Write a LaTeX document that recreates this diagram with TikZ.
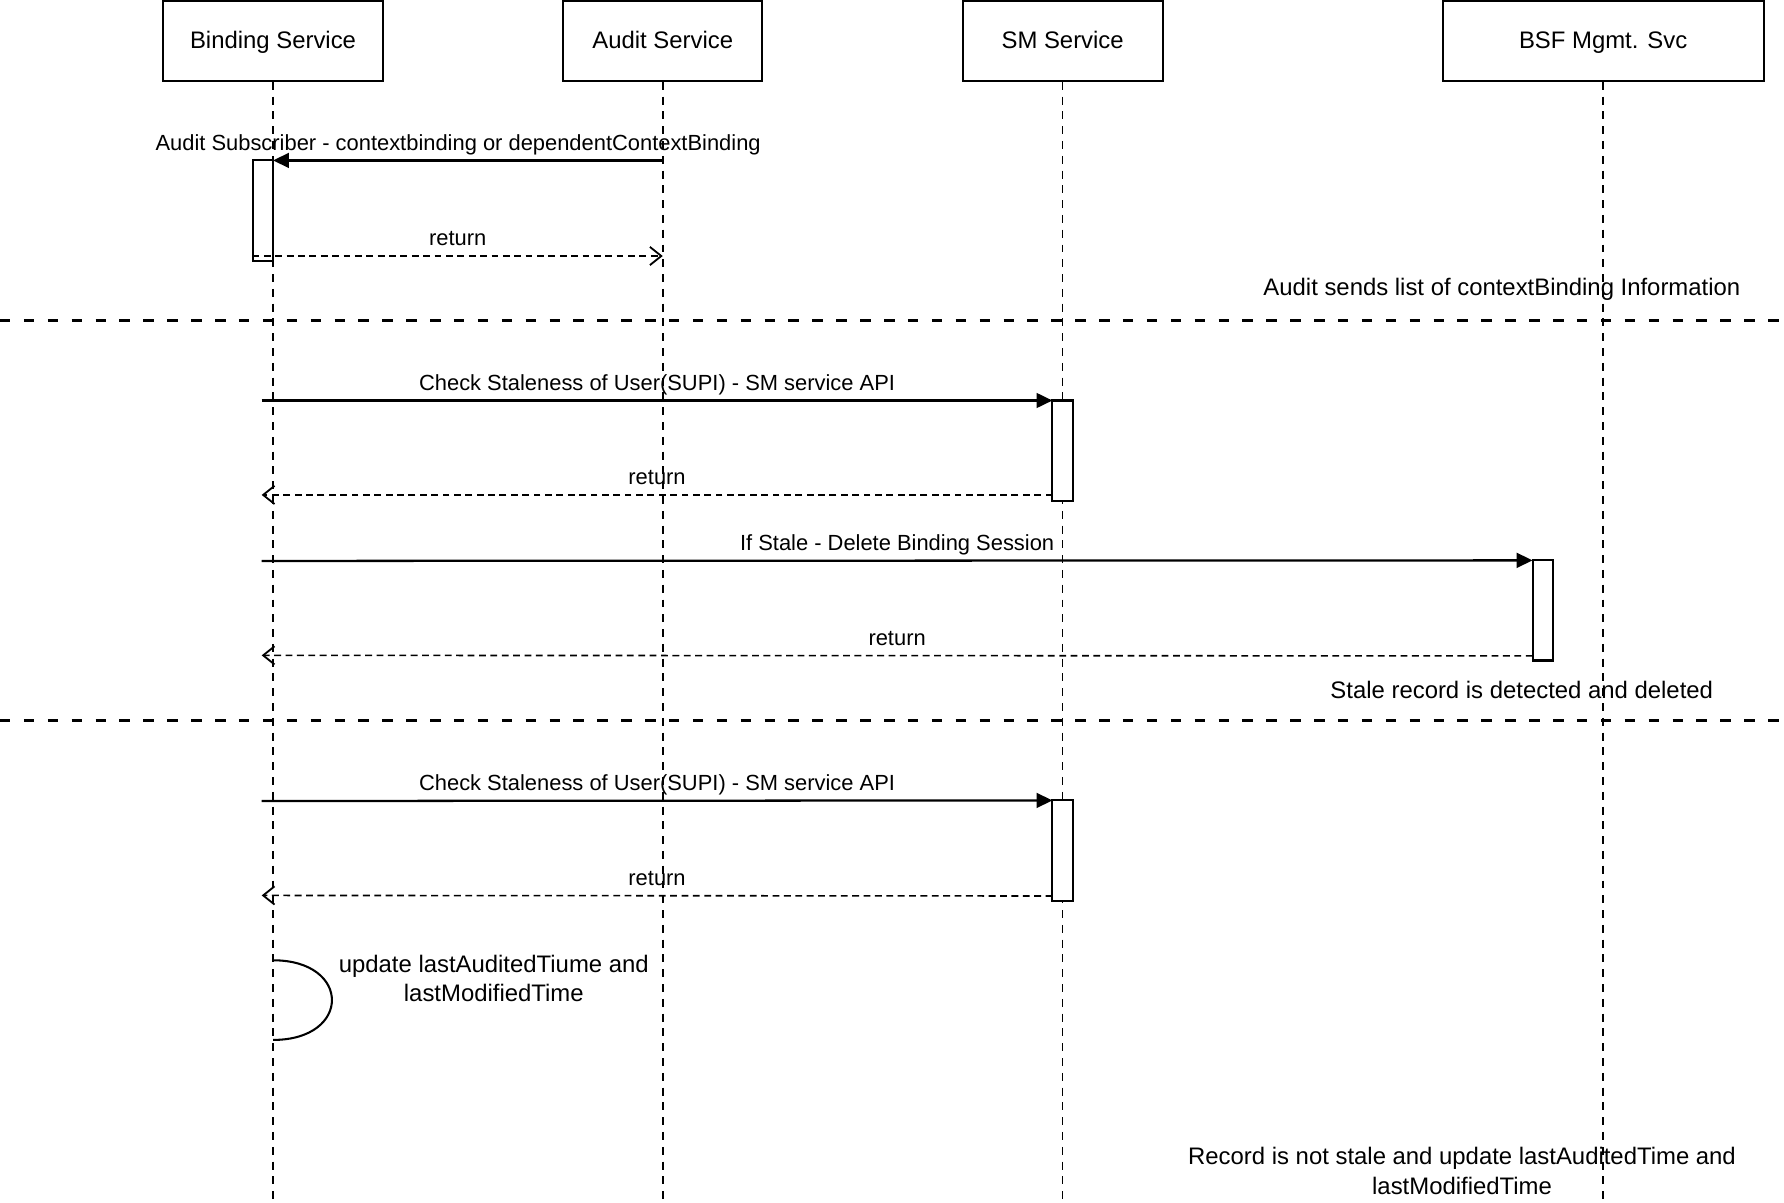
\documentclass[tikz,border=0pt]{standalone}
\usepackage{fontspec}
\setmainfont{Liberation Sans}
\usetikzlibrary{arrows.meta}

\tikzset{
  txt/.style={font=\fontsize{10.5pt}{13pt}\selectfont, align=center, inner sep=0pt},
  actor/.style={txt, draw, line width=0.9pt, minimum height=35pt, text height=0.72em, text depth=0.1em},
  lifeline/.style={line width=0.7pt, dash pattern=on 3.5pt off 3pt},
  activation/.style={draw, fill=white, line width=0.9pt, inner sep=0pt, outer sep=0pt, minimum width=9pt, minimum height=44pt},
  call/.style={line width=1pt, -{Triangle[length=7pt,width=6.5pt]}},
  reply/.style={line width=0.7pt, dash pattern=on 3pt off 2pt, -{Straight Barb[length=5pt,width=8pt,line width=0.8pt]}},
  msglabel/.style={font=\fontsize{9.625pt}{12pt}\selectfont, inner sep=0pt, anchor=base, yshift=4.5pt},
  divider/.style={line width=1.4pt, dash pattern=on 4.6pt off 5.9pt}
}

\begin{document}
\begin{tikzpicture}[x=0.5pt, y=-0.5pt]
\useasboundingbox (0,0) rectangle (1568,1056.5);

\node[actor, minimum width=97pt] (bind) at (240,36) {Binding Service};
\node[actor, minimum width=87.5pt] (audit) at (582.5,36) {Audit Service};
\node[actor, minimum width=88pt] (sm) at (934,36) {SM Service};
\node[actor, minimum width=141pt] (bsf) at (1409,36) {BSF Mgmt. Svc};

\foreach \p/\x in {bind/240, audit/582.5, sm/934, bsf/1409} {
  \coordinate (\p end) at (\x,1056.5);
  \draw[lifeline] (\p.south) -- (\p end);
}

\node[activation] (actbind) at (231,185) {};
\node[activation] (actsm1) at (934,396) {};
\node[activation] (actbsf) at (1356,536.5) {};
\node[activation] (actsm2) at (934,747.5) {};

\coordinate (auditin) at (582.5,141);
\coordinate (auditback) at (582.5,225);
\coordinate (bindout1) at (230,352);
\coordinate (bindin1) at (230,435);
\coordinate (bindout2) at (230,493);
\coordinate (bindin2) at (230,576);
\coordinate (bindout3) at (230,704);
\coordinate (bindin3) at (230,787);
\coordinate (loopa) at (240,844);
\coordinate (loopb) at (240,914);

\draw[call] (auditin) -- node[msglabel, pos=0.525] {Audit Subscriber - contextbinding or dependentContextBinding} (actbind.north east);
\draw[reply] ([yshift=2pt]actbind.south west) -- node[msglabel] {return} (auditback);

\draw[divider] (0,282) -- (1568,282);
\node[txt] (note1) at (1320,254) {Audit sends list of contextBinding Information};

\draw[call] (bindout1) -- node[msglabel] {Check Staleness of User(SUPI) - SM service API} (actsm1.north west);
\draw[reply] ([yshift=2.5pt]actsm1.south west) -- node[msglabel] {return} (bindin1);
\draw[call] (bindout2) -- node[msglabel] {If Stale - Delete Binding Session} (actbsf.north west);
\draw[reply] ([yshift=2pt]actbsf.south west) -- node[msglabel] {return} (bindin2);

\node[txt] (note2) at (1337.5,606) {Stale record is detected and deleted};
\draw[divider] (0,633) -- (1568,633);

\draw[call] (bindout3) -- node[msglabel] {Check Staleness of User(SUPI) - SM service API} (actsm2.north west);
\draw[reply] ([yshift=2pt]actsm2.south west) -- node[msglabel] {return} (bindin3);

\draw[line width=0.9pt] (loopa) .. controls (309,844) and (309,914) .. (loopb);
\node[txt] (looplabel) at (434,860) {update lastAuditedTiume and\\lastModifiedTime};

\node[txt] (note3) at (1285,1029) {Record is not stale and update lastAuditedTime and\\lastModifiedTime};
\end{tikzpicture}
\end{document}
